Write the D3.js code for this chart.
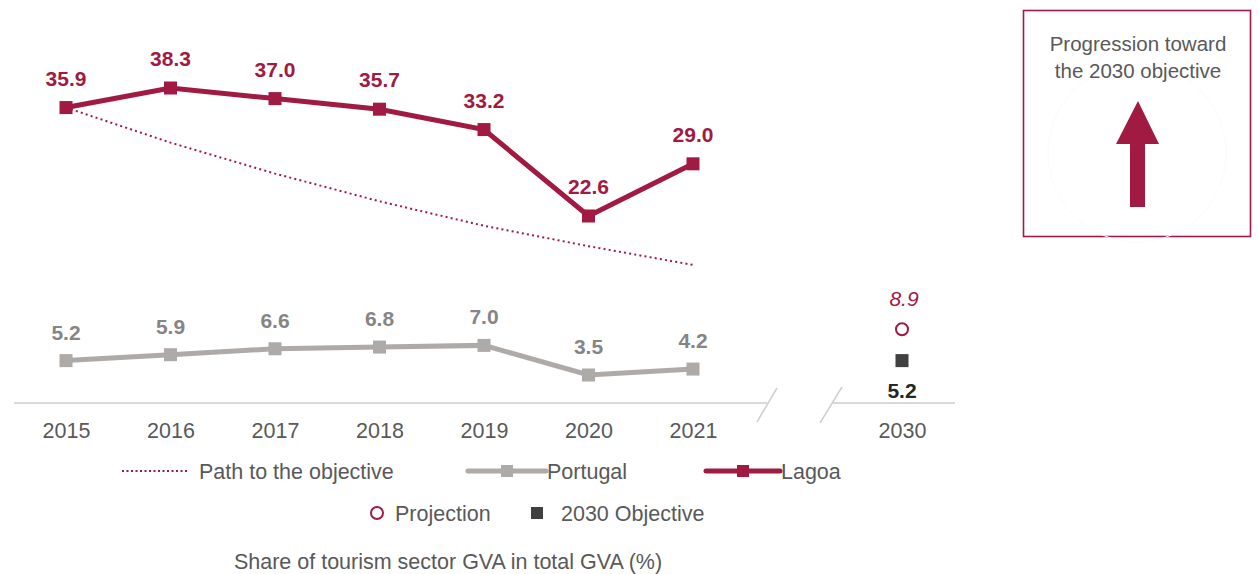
<!DOCTYPE html>
<html><head><meta charset="utf-8">
<script src="https://cdn.jsdelivr.net/npm/d3@7"></script>
<style>html,body{margin:0;padding:0;background:#fff}svg{display:block;font-family:"Liberation Sans",Arial,sans-serif}</style>
</head><body><svg id="c" width="1259" height="574"></svg>
<script>
const categories = ["2015","2016","2017","2018","2019","2020","2021","","2030"];
const years = ["2015","2016","2017","2018","2019","2020","2021"];
const lagoa = [35.9,38.3,37.0,35.7,33.2,22.6,29.0];
const portugal = [5.2,5.9,6.6,6.8,7.0,3.5,4.2];
const pathToObjective = [35.9,31.6,27.8,24.4,21.4,18.9,16.6];
const projection2030 = 8.9;
const objective2030 = 5.2;
const legendRow1 = ["Path to the objective","Portugal","Lagoa"];
const legendRow2 = ["Projection","2030 Objective"];
const title = "Share of tourism sector GVA in total GVA (%)";
const boxText = ["Progression toward","the 2030 objective"];

const RED="#A01A42", GREY="#AEAAA8", TXT="#595959";
const FS=21.5;
const svg=d3.select("#c");
const x=d3.scalePoint().domain(categories).range([66,902]);
const yTop=d3.scaleLinear().domain([22.6,38.3]).range([216,88]);
const yBot=d3.scaleLinear().domain([3.5,8.9]).range([375,329.3]);

// baseline with break
const baseY=403;
svg.append("line").attr("x1",14).attr("x2",767).attr("y1",baseY).attr("y2",baseY).attr("stroke","#d9d9d9").attr("stroke-width",2);
svg.append("line").attr("x1",833).attr("x2",955).attr("y1",baseY).attr("y2",baseY).attr("stroke","#d9d9d9").attr("stroke-width",2);
[[757,422,777,388],[820,423,842,387]].forEach(s=>svg.append("line").attr("x1",s[0]).attr("y1",s[1]).attr("x2",s[2]).attr("y2",s[3]).attr("stroke","#cfcfcf").attr("stroke-width",1.5));

// x axis labels
const xAxis=d3.axisBottom(x).tickSize(0).tickPadding(0).tickValues(categories.filter(d=>d!==""));
const gx=svg.append("g").attr("transform","translate(0,"+baseY+")").call(xAxis);
gx.select(".domain").remove();
gx.selectAll("text").attr("font-size",FS).attr("fill",TXT).attr("dy",null).attr("y",35).attr("font-family","Liberation Sans, Arial, sans-serif");

// path to objective (dotted)
svg.append("path").datum(pathToObjective).attr("fill","none").attr("stroke",RED).attr("stroke-width",2)
 .attr("stroke-dasharray","2,3.2")
 .attr("d",d3.line().x((d,i)=>x(years[i])).y(d=>yTop(d)));

function series(vals,y,color,labColor,off){
  svg.append("path").datum(vals).attr("fill","none").attr("stroke",color).attr("stroke-width",5).attr("stroke-linejoin","miter")
   .attr("d",d3.line().x((d,i)=>x(years[i])).y(d=>y(d)));
  svg.selectAll(null).data(vals).enter().append("rect").attr("x",(d,i)=>x(years[i])-6.5).attr("y",d=>y(d)-6.5)
   .attr("width",13).attr("height",13).attr("fill",color);
  svg.selectAll(null).data(vals).enter().append("text").attr("x",(d,i)=>x(years[i])).attr("y",d=>y(d)-off)
   .attr("text-anchor","middle").attr("font-weight","bold").attr("font-size",21).attr("fill",labColor).text(d=>d.toFixed(1));
}
series(portugal,yBot,GREY,"#858585",21);
series(lagoa,yTop,RED,RED,22);

// 2030
svg.append("circle").attr("cx",x("2030")).attr("cy",yBot(projection2030)).attr("r",6).attr("fill","#fff").attr("stroke",RED).attr("stroke-width",2);
svg.append("text").attr("x",x("2030")+2).attr("y",yBot(projection2030)-23).attr("text-anchor","middle").attr("font-style","italic").attr("font-size",21).attr("fill",RED).text(projection2030.toFixed(1));
svg.append("rect").attr("x",x("2030")-6.5).attr("y",yBot(objective2030)-6.5).attr("width",13).attr("height",13).attr("fill","#404040");
svg.append("text").attr("x",x("2030")).attr("y",yBot(objective2030)+37).attr("text-anchor","middle").attr("font-weight","bold").attr("font-size",21).attr("fill","#262626").text(objective2030.toFixed(1));

// legend row 1
const ly=471;
svg.append("line").attr("x1",122).attr("x2",188).attr("y1",ly).attr("y2",ly).attr("stroke",RED).attr("stroke-width",2).attr("stroke-dasharray","2,2.5");
svg.append("text").attr("x",199).attr("y",ly+8).attr("font-size",FS).attr("fill",TXT).text(legendRow1[0]);
svg.append("line").attr("x1",468).attr("x2",546).attr("y1",ly).attr("y2",ly).attr("stroke",GREY).attr("stroke-width",5).attr("stroke-linecap","round");
svg.append("rect").attr("x",507-6).attr("y",ly-6).attr("width",12).attr("height",12).attr("fill",GREY);
svg.append("text").attr("x",547).attr("y",ly+8).attr("font-size",FS).attr("fill",TXT).text(legendRow1[1]);
svg.append("line").attr("x1",706).attr("x2",780).attr("y1",ly).attr("y2",ly).attr("stroke",RED).attr("stroke-width",5).attr("stroke-linecap","round");
svg.append("rect").attr("x",743-6).attr("y",ly-6).attr("width",12).attr("height",12).attr("fill",RED);
svg.append("text").attr("x",781).attr("y",ly+8).attr("font-size",FS).attr("fill",TXT).text(legendRow1[2]);
// legend row 2
const ly2=513;
svg.append("circle").attr("cx",377).attr("cy",ly2).attr("r",6).attr("fill","#fff").attr("stroke",RED).attr("stroke-width",2);
svg.append("text").attr("x",395).attr("y",ly2+8).attr("font-size",FS).attr("fill",TXT).text(legendRow2[0]);
svg.append("rect").attr("x",531).attr("y",ly2-6).attr("width",12).attr("height",12).attr("fill","#404040");
svg.append("text").attr("x",561).attr("y",ly2+8).attr("font-size",FS).attr("fill",TXT).text(legendRow2[1]);
// title
svg.append("text").attr("x",448).attr("y",569).attr("text-anchor","middle").attr("font-size",FS).attr("fill",TXT).text(title);

// box
svg.append("rect").attr("x",1023.5).attr("y",10.5).attr("width",227).attr("height",226).attr("fill","#fff").attr("stroke",RED).attr("stroke-width",1.6);
svg.append("circle").attr("cx",1137).attr("cy",153).attr("r",89).attr("fill","none").attr("stroke","#fbfbfb").attr("stroke-width",1);
boxText.forEach((t,i)=>svg.append("text").attr("x",1138).attr("y",51+i*27).attr("text-anchor","middle").attr("font-size",20.5).attr("fill",TXT).text(t));
svg.append("path").attr("d","M1138,101 L1159,144 L1145,144 L1145,207 L1130,207 L1130,144 L1116,144 Z").attr("fill",RED);
</script></body></html>
